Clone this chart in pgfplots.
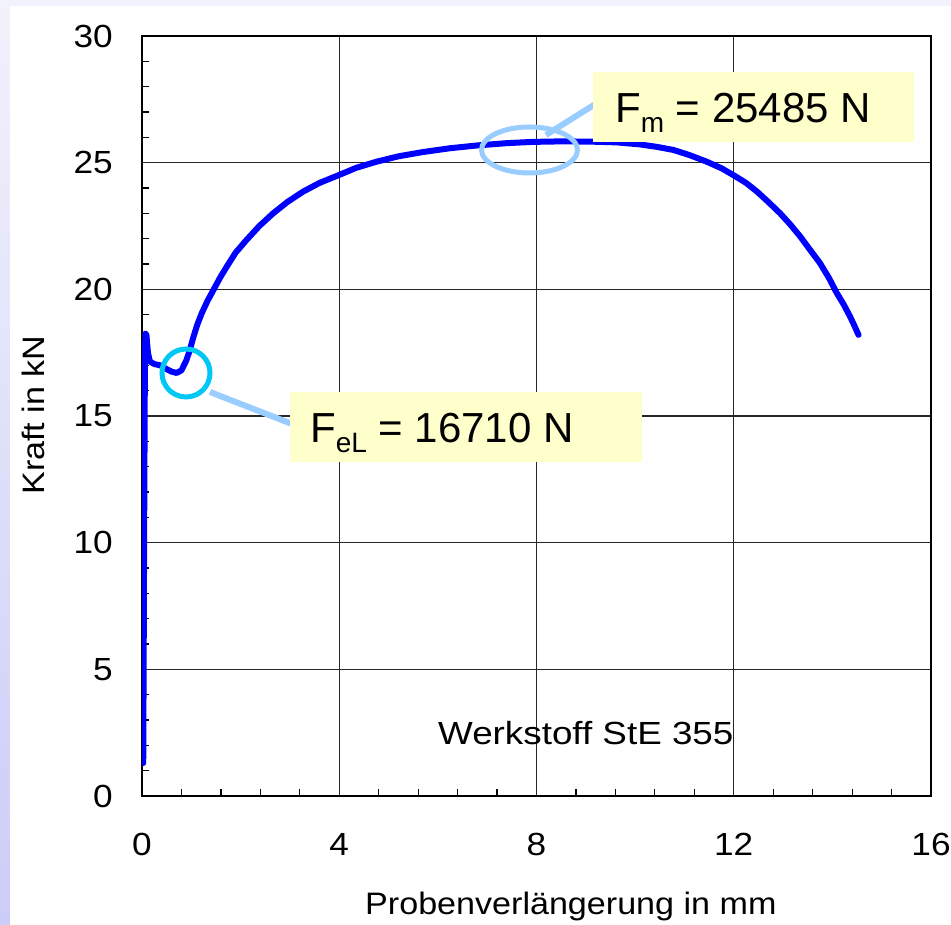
\documentclass[border=0pt]{standalone}
\usepackage{graphicx}
\usepackage{fontspec}
\setmainfont{Liberation Sans}
\usepackage{pgfplots}
\pgfplotsset{compat=1.18}

\definecolor{kurve}{RGB}{0,0,255}
\definecolor{ringcyan}{RGB}{0,200,245}
\definecolor{hellblau}{RGB}{153,204,255}
\definecolor{boxgelb}{RGB}{255,255,204}
\newcommand\hs[2][1.1]{\scalebox{#1}[1]{#2}}

\begin{document}
\begin{tikzpicture}[x=1pt,y=1pt]
\useasboundingbox (0,0) rectangle (951,925);
\shade[top color={rgb,255:red,242;green,242;blue,252}, bottom color={rgb,255:red,204;green,204;blue,248}] (0,0) rectangle (951,925);
\fill[white] (10,0) rectangle (951,919);

\begin{axis}[
    at={(142pt,129pt)}, anchor=south west,
    scale only axis, width=789pt, height=760pt,
    xmin=0, xmax=16, ymin=0, ymax=30,
    xtick={0,4,...,16}, ytick={0,5,...,30},
    minor x tick num=4, minor y tick num=4,
    tick pos=left, tick align=inside,
    major tick length=0pt, minor tick length=7pt,
    every tick/.style={black, line width=1.2pt},
    grid=major,
    major grid style={black!85, line width=1.3pt},
    axis line style={black, line width=1.4pt},
    ticklabel style={font=\fontsize{32}{38}\selectfont, inner sep=0pt},
    xticklabel={\hs{\pgfmathprintnumber[assume math mode=true]{\tick}}},
    yticklabel={\hs{\pgfmathprintnumber[assume math mode=true]{\tick}}},
    xticklabel style={anchor=base, yshift=-60pt},
    yticklabel style={anchor=east, xshift=-29pt},
  ]
  \addplot[kurve, line width=6pt, line join=round, line cap=round] coordinates {
    (0.025,1.3) (0.035,6) (0.045,11) (0.055,15.5) (0.06,17.5) (0.07,18.25)
    (0.09,18.2) (0.12,17.5) (0.16,17.15) (0.25,17.05) (0.37,17.0) (0.5,16.85)
    (0.6,16.75) (0.7,16.7) (0.8,16.8) (0.9,17.2) (0.97,17.6) (1.04,18.1)
    (1.12,18.6) (1.21,19.05) (1.33,19.55) (1.45,19.98) (1.58,20.45) (1.72,20.9)
    (1.9,21.45) (2.12,21.95) (2.38,22.5) (2.66,23.0) (2.95,23.45) (3.27,23.86)
    (3.6,24.2) (3.98,24.5) (4.35,24.8) (4.76,25.04) (5.2,25.25) (5.7,25.42)
    (6.25,25.57) (6.8,25.68) (7.4,25.77) (7.93,25.82) (8.5,25.84) (9.1,25.83)
    (9.63,25.8) (10.1,25.72) (10.45,25.62) (10.78,25.5) (11.1,25.3) (11.45,25.04)
    (11.75,24.78) (12.0,24.5) (12.25,24.2) (12.47,23.86) (12.7,23.45) (12.94,23.0)
    (13.15,22.55) (13.35,22.08) (13.55,21.55) (13.75,21.03) (13.93,20.45)
    (14.09,19.85) (14.23,19.4) (14.36,18.92) (14.45,18.55) (14.53,18.2)
  };
\end{axis}

% axis titles
\node[anchor=base west, inner sep=0pt, font=\fontsize{31}{37}\selectfont] at (365,10) {\hs{Probenverlängerung in mm}};
\node[rotate=90, anchor=center, inner sep=0pt, font=\fontsize{31}{37}\selectfont] at (33,510) {\hs{Kraft in kN}};

% annotations (pixel coordinates, y downwards)
\begin{scope}[shift={(0,925)}, yscale=-1]
  \node[anchor=base west, inner sep=0pt, font=\fontsize{32}{38}\selectfont] at (438,745) {\hs[1.15]{Werkstoff StE 355}};
  % F_eL
  \draw[hellblau, line width=6pt] (210,392) -- (292,424);
  \draw[ringcyan, line width=5pt] (186,373) circle (24);
  \fill[boxgelb] (290,392) rectangle (642,462);
  \node[anchor=base west, inner sep=0pt] at (310,443)
    {\fontsize{42}{50}\selectfont F\raisebox{-10pt}{\fontsize{28}{32}\selectfont eL} = 16710 N};
  % F_m
  \draw[hellblau, line width=6pt] (546,135) -- (597,103);
  \draw[hellblau, line width=5pt] (529.5,150) ellipse (48 and 23);
  \fill[boxgelb] (593,72) rectangle (914,142);
  \node[anchor=base west, inner sep=0pt] at (615,123)
    {\fontsize{42}{50}\selectfont F\raisebox{-10pt}{\fontsize{28}{32}\selectfont m} = 25485 N};
\end{scope}
\end{tikzpicture}
\end{document}
